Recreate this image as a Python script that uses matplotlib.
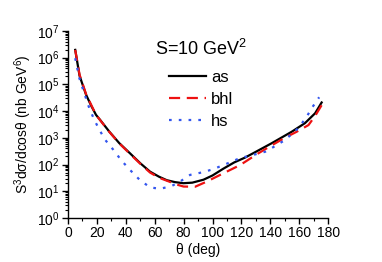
import matplotlib
matplotlib.use('Agg')
import matplotlib.pyplot as plt
import numpy as np
from matplotlib.ticker import MultipleLocator, LogLocator, NullFormatter, FixedLocator

plt.rcParams['font.family'] = ['Liberation Sans', 'DejaVu Sans']
plt.rcParams['mathtext.fontset'] = 'custom'
plt.rcParams['mathtext.rm'] = 'Liberation Sans'
plt.rcParams['mathtext.it'] = 'Liberation Sans:italic'

# values
theta_as = [5, 8, 12.5, 16, 19.4, 22.2, 28.6, 35.5, 42.9, 50, 56.8, 63, 68.3, 74,
            79.8, 86, 93.7, 100, 107.5, 115, 122.5, 130, 141, 154.9, 164, 171, 175.5]
sig_as = [1.95e6, 2.1e5, 4.1e4, 1.6e4, 7.2e3, 4.7e3, 1.7e3, 630, 263, 112, 54, 35, 26, 22,
          20, 21, 27, 39, 70, 120, 182, 300, 630, 1700, 3550, 8300, 2.1e4]

theta_bhl = [5, 8, 12.5, 19.4, 28.6, 35.5, 42.9, 50, 56.8, 63, 70, 75, 80, 88, 96,
             107.5, 119, 131.7, 141, 150, 158, 166.4, 171, 175.6]
sig_bhl = [1.95e6, 2.3e5, 4.3e4, 7.2e3, 1.66e3, 620, 250, 107, 50, 32, 23, 18, 15, 14.8, 23,
           47, 95, 263, 525, 1000, 1660, 3000, 6600, 1.7e4]

theta_hs = [5, 7.8, 10.1, 14.7, 18.2, 21.7, 25.8, 31.4, 37, 42.9, 49.8, 56.8, 63.7, 71.8,
            77.5, 84.5, 93.7, 100, 107.5, 119, 126, 136.4, 143, 150.2, 159.4, 165.2, 168.7, 173.8]
sig_hs = [9.5e5, 1.74e5, 7.2e4, 1.3e4, 4.7e3, 2.0e3, 830, 355, 141, 63, 26, 14, 12.3, 15.8,
          23, 41, 52, 66, 95, 174, 214, 300, 480, 830, 2300, 6200, 1.3e4, 3.3e4]

fig = plt.figure(figsize=(3.82, 2.62), dpi=100)
ax = fig.add_axes([0.178, 0.168, 0.681, 0.714])

ax.plot(theta_as, sig_as, color='black', lw=1.6, label='as')
ax.plot(theta_bhl, sig_bhl, color='#ee1111', lw=1.6, dashes=(5, 3), label='bhl')
ax.plot(theta_hs, sig_hs, color='#3355ee', lw=1.6, dashes=(1.2, 3.2), label='hs')

ax.set_yscale('log')
ax.set_xlim(0, 180)
ax.set_ylim(1, 1e7)
ax.xaxis.set_major_locator(MultipleLocator(20))
ax.xaxis.set_minor_locator(MultipleLocator(10))
ax.yaxis.set_major_locator(FixedLocator([10.0**k for k in range(8)]))
ax.yaxis.set_minor_locator(LogLocator(base=10, subs=np.arange(2, 10), numticks=20))
ax.yaxis.set_minor_formatter(NullFormatter())
ax.set_yticklabels([r'$10^{%d}$' % k for k in range(8)])

for s in ['top', 'right']:
    ax.spines[s].set_visible(False)
for s in ['left', 'bottom']:
    ax.spines[s].set_linewidth(1.0)
ax.tick_params(which='major', direction='out', length=4, width=1, labelsize=10, pad=2)
ax.tick_params(which='minor', direction='out', length=2, width=0.8)

ax.set_xlabel('θ (deg)', fontsize=10, labelpad=2)
ax.set_ylabel(r'S$^3$dσ/dcosθ (nb GeV$^6$)', fontsize=10, labelpad=2)

ax.text(0.335, 0.905, r'S=10 GeV$^2$', transform=ax.transAxes, fontsize=13,
        ha='left', va='center')
ax.legend(loc='upper left', bbox_to_anchor=(0.39, 0.79), frameon=False, fontsize=12,
          handlelength=2.2, handletextpad=0.3, labelspacing=0.42, borderpad=0, borderaxespad=0)

fig.savefig('out.png', dpi=100)
